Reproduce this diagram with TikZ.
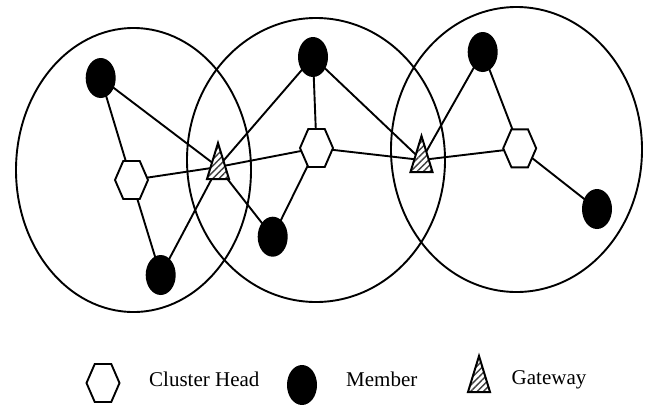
\documentclass[tikz,border=0pt]{standalone}
\usepackage{fontspec}
\setmainfont{Liberation Serif}
\usetikzlibrary{calc,patterns.meta,shapes.geometric}
\pgfdeclarelayer{background}
\pgfsetlayers{background,main}
\tikzset{
  linkline/.style={line width=1.9bp},
  clusterring/.style={line width=1.9bp},
  memberdot/.style={ellipse, fill=black, minimum width=30bp, minimum height=40bp, inner sep=0pt},
  hexline/.style={line width=1.9bp, fill=white, line join=miter},
  gateline/.style={line width=2bp, line join=miter, preaction={fill=white}, pattern={Lines[angle=45,distance=4.5bp,line width=1.4bp]}, pattern color=black!75},
  legendtext/.style={font=\fontsize{21bp}{25bp}\selectfont, inner sep=0pt, anchor=base west}
}
\newcommand\hexat[1]{\draw[hexline] ($(#1)+(-16.5bp,0)$) -- ($(#1)+(-8.25bp,19bp)$) -- ($(#1)+(8.25bp,19bp)$) -- ($(#1)+(16.5bp,0)$) -- ($(#1)+(8.25bp,-19bp)$) -- ($(#1)+(-8.25bp,-19bp)$) -- cycle;}
\newcommand\gateat[1]{\draw[gateline] ($(#1)+(0,24bp)$) -- ($(#1)+(11bp,-12bp)$) -- ($(#1)+(-11bp,-12bp)$) -- cycle;}
\begin{document}
\begin{tikzpicture}[x=1bp,y=-1bp]
\useasboundingbox (0,0) rectangle (649,404);
% cluster ranges
\draw[clusterring] (133.5,170) ellipse [x radius=117.5bp, y radius=142bp];
\draw[clusterring] (316,160) ellipse [x radius=129bp, y radius=142bp];
\draw[clusterring] (516.5,149.5) ellipse [x radius=125.5bp, y radius=142.5bp];
% positions
\coordinate (ch1) at (131.5,180);
\coordinate (ch2) at (316.5,148);
\coordinate (ch3) at (519.7,148.3);
\coordinate (g1) at (218,167);
\coordinate (g2) at (421.5,160);
\node[memberdot] (m1) at (100.7,78) {};
\node[memberdot] (m2) at (160.7,275) {};
\node[memberdot] (m3) at (313,57) {};
\node[memberdot] (m4) at (272.7,236.7) {};
\node[memberdot] (m5) at (482.7,52) {};
\node[memberdot] (m6) at (597,209) {};
% links
\begin{pgfonlayer}{background}
\draw[linkline] (m1.center) -- (ch1);
\draw[linkline] (m1.center) -- (g1);
\draw[linkline] (ch1) -- (g1);
\draw[linkline] (g1) -- (ch2);
\draw[linkline] (ch1) -- (m2.center);
\draw[linkline] (m2.center) -- (g1);
\draw[linkline] (g1) -- (m3.center);
\draw[linkline] (g1) -- (m4.center);
\draw[linkline] (m3.center) -- (ch2);
\draw[linkline] (ch2) -- (m4.center);
\draw[linkline] (ch2) -- (g2);
\draw[linkline] (m3.center) -- (g2);
\draw[linkline] (g2) -- (m5.center);
\draw[linkline] (g2) -- (ch3);
\draw[linkline] (m5.center) -- (ch3);
\draw[linkline] (ch3) -- (m6.center);
\end{pgfonlayer}
% shapes
\hexat{ch1}
\hexat{ch2}
\hexat{ch3}
\gateat{g1}
\gateat{g2}
% legend
\coordinate (lh) at (103,383);
\coordinate (lg) at (479,380);
\hexat{lh}
\node[memberdot] (lm) at (302,385) {};
\gateat{lg}
\node[legendtext] (t1) at (149,386.5) {Cluster Head};
\node[legendtext] (t2) at (346,386.5) {Member};
\node[legendtext] (t3) at (511.5,384) {Gateway};
\end{tikzpicture}
\end{document}
